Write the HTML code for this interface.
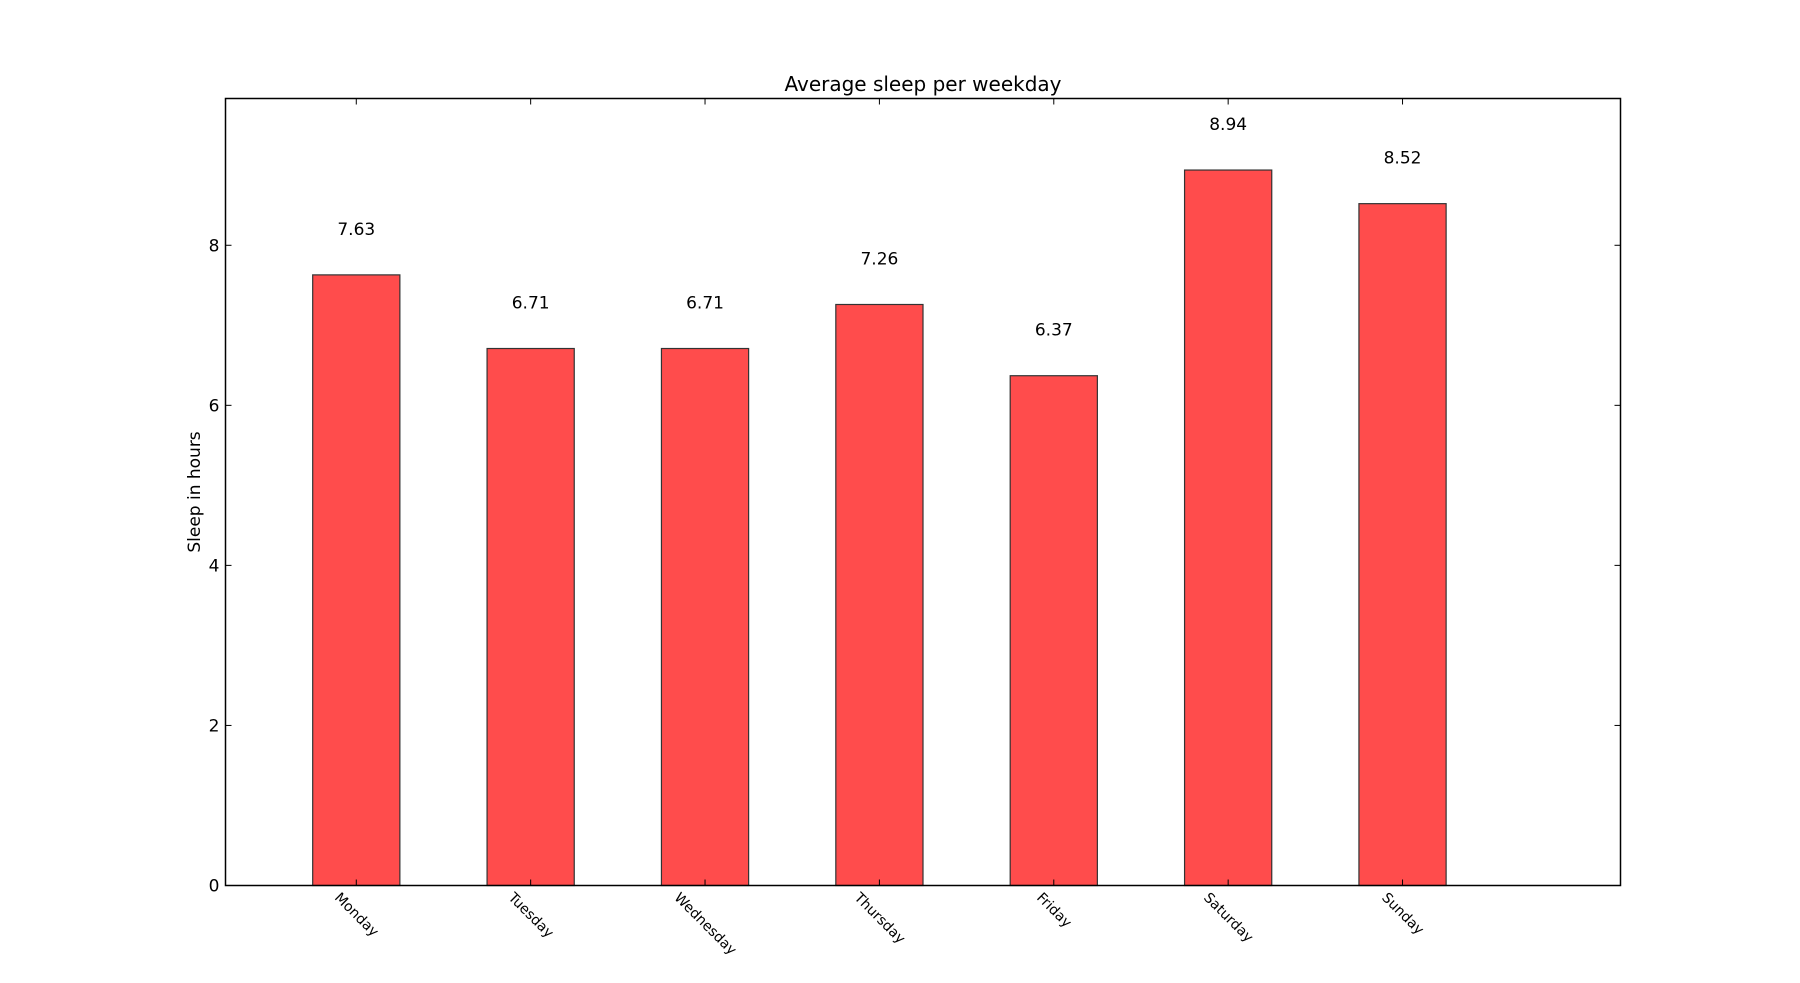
<!DOCTYPE html>
<html><head><meta charset="utf-8"><style>
body{margin:0;background:#fff;}
svg{display:block;font-family:"DejaVu Sans","Liberation Sans",sans-serif;}
</style></head><body>
<svg id="chart" width="1800" height="983" viewBox="0 0 1800 983"></svg>
<script>
const categories=["Monday","Tuesday","Wednesday","Thursday","Friday","Saturday","Sunday"];
const sleepHours=[7.63,6.71,6.71,7.26,6.37,8.94,8.52];
const yTicks=[0,2,4,6,8];
const L=225.5,R=1620.5,T=98.5,B=885.5;
const xMin=-0.5,xMax=7.5,yMin=0,yMax=9.834;
const xs=v=>L+(v-xMin)/(xMax-xMin)*(R-L);
const ys=v=>B-(v-yMin)/(yMax-yMin)*(B-T);
const svg=document.getElementById('chart');
const NS='http://www.w3.org/2000/svg';
function mk(t,a,p){const e=document.createElementNS(NS,t);for(const k in a)e.setAttribute(k,a[k]);(p||svg).appendChild(e);return e;}
sleepHours.forEach((v,i)=>{
  const r=mk('rect',{x:xs(i),y:ys(v),width:xs(i+0.5)-xs(i),height:ys(0)-ys(v),fill:'#ff4c4c',stroke:'#333','stroke-width':1.2});
  
  
  const t=mk('text',{x:xs(i+0.25),y:ys(v+0.5),'text-anchor':'middle','font-size':17,fill:'#000'});
  t.textContent=v.toFixed(2);
  
  
  const cx=xs(i+0.25);
  mk('line',{x1:cx,y1:B,x2:cx,y2:B-6,stroke:'#000'});
  mk('line',{x1:cx,y1:T,x2:cx,y2:T+6,stroke:'#000'});
  const lb=mk('text',{x:0,y:0,'font-size':14,fill:'#000','text-anchor':'middle','dominant-baseline':'central'});
  lb.textContent=categories[i];
  
  
  const len=lb.getComputedTextLength();
  lb.setAttribute('transform',`translate(${cx},${B+10+len*0.3536}) rotate(45)`);
});
yTicks.forEach(v=>{
  const y=ys(v);
  mk('line',{x1:L,y1:y,x2:L+6,y2:y,stroke:'#000'});
  mk('line',{x1:R,y1:y,x2:R-6,y2:y,stroke:'#000'});
  const t=mk('text',{x:L-6,y:y+6,'text-anchor':'end','font-size':17,fill:'#000'});
  t.textContent=v;
  
  
});
const frame=mk('rect',{x:L,y:T,width:R-L,height:B-T,fill:'none',stroke:'#000','stroke-width':1.5});


const title=mk('text',{x:(L+R)/2,y:91,'text-anchor':'middle','font-size':20,fill:'#000'});
title.textContent='Average sleep per weekday';


const yl=mk('text',{x:0,y:0,'text-anchor':'middle','font-size':17,fill:'#000',transform:`translate(200,${(T+B)/2}) rotate(-90)`});
yl.textContent='Sleep in hours';


</script>
</body></html>
